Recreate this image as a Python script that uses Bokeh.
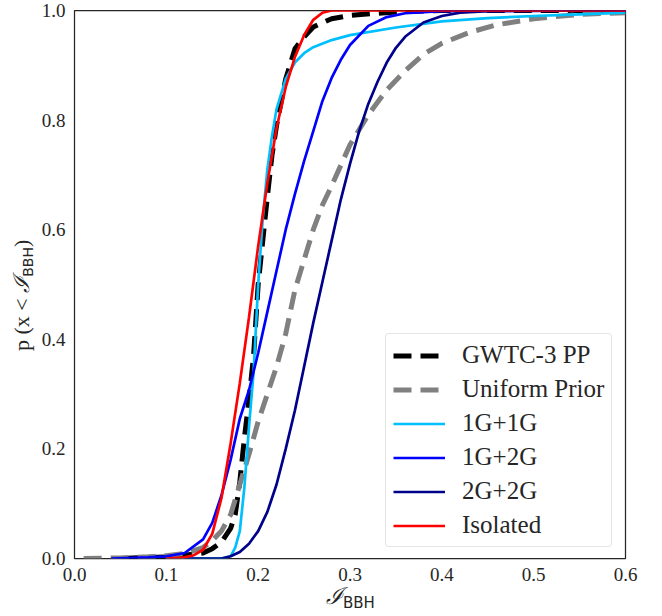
from bokeh.plotting import figure
from bokeh.models import Legend, LegendItem, FixedTicker, Range1d, Div
from bokeh.layouts import column, row
from bokeh.embed import file_html
from bokeh.resources import INLINE

# ---------------- data ----------------
x_ticks = [0.0, 0.1, 0.2, 0.3, 0.4, 0.5, 0.6]
x_tick_labels = ["0.0", "0.1", "0.2", "0.3", "0.4", "0.5", "0.6"]
y_ticks = [0.0, 0.2, 0.4, 0.6, 0.8, 1.0]
y_tick_labels = ["0.0", "0.2", "0.4", "0.6", "0.8", "1.0"]

# GWTC-3 PP (black dashed)
x_pp = [0.05, 0.10, 0.12, 0.14, 0.15, 0.16, 0.17, 0.175, 0.18, 0.185, 0.19, 0.195,
        0.20, 0.205, 0.21, 0.215, 0.22, 0.23, 0.24, 0.25, 0.26, 0.28, 0.30, 0.33,
        0.36, 0.40, 0.60]
y_pp = [0.0, 0.003, 0.006, 0.01, 0.018, 0.03, 0.055, 0.08, 0.14, 0.22, 0.29, 0.37,
        0.50, 0.58, 0.66, 0.735, 0.79, 0.875, 0.93, 0.952, 0.97, 0.985, 0.991, 0.995,
        0.998, 1.0, 1.0]

# Uniform Prior (grey dashed)
x_uni = [0.01, 0.05, 0.08, 0.10, 0.12, 0.14, 0.15, 0.16, 0.17, 0.18, 0.19, 0.20,
         0.21, 0.22, 0.23, 0.24, 0.25, 0.26, 0.27, 0.28, 0.30, 0.32, 0.34, 0.36,
         0.38, 0.40, 0.43, 0.46, 0.50, 0.55, 0.60]
y_uni = [0.0, 0.001, 0.003, 0.005, 0.009, 0.02, 0.033, 0.05, 0.08, 0.135, 0.19, 0.25,
         0.30, 0.35, 0.41, 0.49, 0.545, 0.60, 0.645, 0.68, 0.755, 0.81, 0.855, 0.89,
         0.92, 0.94, 0.96, 0.974, 0.985, 0.993, 0.996]

# 1G+1G
x_11 = [0.10, 0.16, 0.17, 0.175, 0.18, 0.185, 0.19, 0.195, 0.20, 0.205, 0.21, 0.215,
        0.22, 0.23, 0.24, 0.25, 0.26, 0.28, 0.30, 0.35, 0.40, 0.45, 0.50, 0.55, 0.60]
y_11 = [0.0, 0.0, 0.004, 0.02, 0.05, 0.13, 0.24, 0.34, 0.50, 0.62, 0.71, 0.77,
        0.82, 0.875, 0.905, 0.922, 0.933, 0.946, 0.955, 0.969, 0.980, 0.986, 0.990,
        0.993, 0.996]

# 1G+2G
x_12 = [0.04, 0.08, 0.10, 0.12, 0.14, 0.15, 0.16, 0.17, 0.18, 0.19, 0.20, 0.21, 0.22,
        0.23, 0.24, 0.25, 0.26, 0.27, 0.28, 0.29, 0.30, 0.32, 0.34, 0.36, 0.40, 0.60]
y_12 = [0.0, 0.002, 0.004, 0.01, 0.035, 0.065, 0.115, 0.18, 0.255, 0.307, 0.375, 0.45,
        0.525, 0.60, 0.665, 0.725, 0.78, 0.835, 0.877, 0.91, 0.937, 0.972, 0.988,
        0.995, 0.999, 1.0]

# 2G+2G
x_22 = [0.12, 0.16, 0.17, 0.18, 0.19, 0.20, 0.21, 0.22, 0.23, 0.24, 0.25, 0.26, 0.27,
        0.28, 0.29, 0.30, 0.31, 0.32, 0.33, 0.34, 0.35, 0.36, 0.38, 0.40, 0.42, 0.45,
        0.60]
y_22 = [0.0, 0.0, 0.004, 0.012, 0.027, 0.05, 0.085, 0.135, 0.20, 0.27, 0.35, 0.43,
        0.505, 0.58, 0.655, 0.72, 0.78, 0.83, 0.87, 0.905, 0.932, 0.952, 0.978, 0.99,
        0.996, 0.999, 1.0]

# Isolated
x_iso = [0.10, 0.12, 0.13, 0.14, 0.15, 0.16, 0.17, 0.18, 0.19, 0.20, 0.21, 0.22, 0.23,
         0.24, 0.25, 0.26, 0.27, 0.28, 0.60]
y_iso = [0.0, 0.002, 0.006, 0.016, 0.045, 0.11, 0.21, 0.32, 0.44, 0.57, 0.685, 0.785,
         0.86, 0.915, 0.955, 0.983, 0.996, 1.0, 1.0]

series_names = ["GWTC-3 PP", "Uniform Prior", "1G+1G", "1G+2G", "2G+2G", "Isolated"]

# ---------------- figure ----------------
SERIF = "Liberation Serif"
TXT = "#262626"

p = figure(width=624, height=588, output_backend="svg", toolbar_location=None,
           x_range=Range1d(0, 0.6), y_range=Range1d(0, 1.0),
           min_border_left=34, min_border_right=37, min_border_top=10,
           min_border_bottom=30, margin=0)
p.background_fill_color = "white"
p.border_fill_color = "white"
p.outline_line_color = TXT
p.outline_line_width = 1.25
p.grid.visible = False

p.xaxis.ticker = FixedTicker(ticks=x_ticks)
p.yaxis.ticker = FixedTicker(ticks=y_ticks)
p.xaxis.major_label_overrides = dict(zip(x_ticks, x_tick_labels))
p.yaxis.major_label_overrides = dict(zip(y_ticks, y_tick_labels))
for ax in (p.xaxis[0], p.yaxis[0]):
    ax.axis_line_color = None
    ax.major_tick_line_color = None
    ax.minor_tick_line_color = None
    ax.major_tick_out = 0
    ax.major_tick_in = 0
    ax.minor_tick_out = 0
    ax.major_label_standoff = 9
    ax.major_label_text_font = SERIF
    ax.major_label_text_font_size = "19px"
    ax.major_label_text_color = TXT

r_pp = p.line(x_pp, y_pp, line_color="black", line_width=5, line_dash="18 9")
r_uni = p.line(x_uni, y_uni, line_color="#808080", line_width=5, line_dash="18 9")
r_11 = p.line(x_11, y_11, line_color="#00BFFF", line_width=2.7)
r_12 = p.line(x_12, y_12, line_color="#0000FF", line_width=2.7)
r_22 = p.line(x_22, y_22, line_color="#00008B", line_width=2.7)
r_iso = p.line(x_iso, y_iso, line_color="#FF0000", line_width=2.7)

renderers = [r_pp, r_uni, r_11, r_12, r_22, r_iso]
legend = Legend(items=[LegendItem(label=n, renderers=[r]) for n, r in zip(series_names, renderers)],
                location=(311, 11))
legend.label_text_font = SERIF
legend.label_text_font_size = "25px"
legend.label_text_color = TXT
legend.glyph_width = 52
legend.glyph_height = 27
legend.label_height = 27
legend.spacing = 6
legend.padding = 7
legend.margin = 0
legend.label_standoff = 17
legend.border_line_color = "#cccccc"
legend.border_line_width = 1
legend.background_fill_alpha = 0.8
if "border_radius" in legend.properties():
    legend.border_radius = 4
p.add_layout(legend)

# ---------------- axis titles (HTML, with a real subscript) ----------------
y_title = Div(width=38, height=588, margin=0, text=(
    '<div style="position:relative;width:38px;height:588px;">'
    '<div style="position:absolute;left:11px;top:351px;transform-origin:0 0;'
    'transform:rotate(-90deg);white-space:nowrap;line-height:22px;color:#262626;'
    "font-family:'Liberation Serif';font-size:22px;\">"
    'p (x &lt; '
    "<span style=\"font-family:'DejaVu Serif';font-style:italic;font-size:22px;\">ℐ</span>"
    "<span style=\"font-family:'DejaVu Sans';font-size:14px;position:relative;top:4px;\">BBH</span>"
    ')</div></div>'))

x_title = Div(width=662, height=28, margin=0, text=(
    '<div style="position:relative;width:662px;height:28px;">'
    '<div style="position:absolute;left:326px;top:-3px;white-space:nowrap;line-height:22px;'
    "color:#262626;font-family:'DejaVu Serif';font-size:23px;\">"
    "<span style=\"font-style:italic;\">ℐ</span>"
    "<span style=\"font-family:'DejaVu Sans';font-size:15px;position:relative;top:4px;\">BBH</span>"
    '</div></div>'))

layout = column(row(y_title, p, margin=0, spacing=0), x_title, margin=0, spacing=0)

open("out.html", "w").write(file_html(layout, INLINE))
